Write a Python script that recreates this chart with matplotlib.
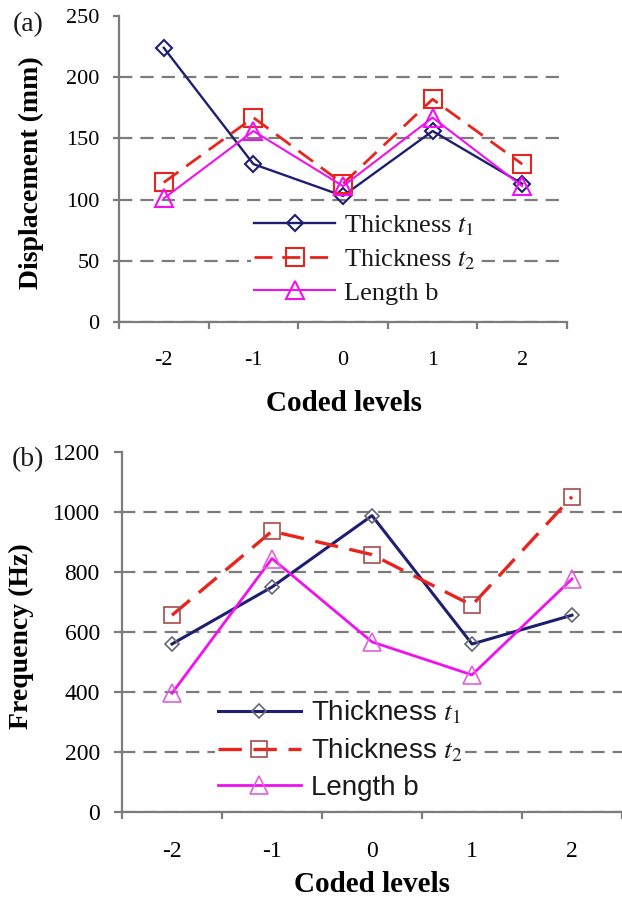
import numpy as np
import matplotlib
matplotlib.use('Agg')
import matplotlib.pyplot as plt

# coded levels on the x axis
levels = ['-2', '-1', '0', '1', '2']

# (a) displacement in mm
disp_t1 = [224, 129, 103, 156, 113]
disp_t2 = [114, 167, 113, 182, 129]
disp_b = [101, 156, 111, 167, 111]

# (b) frequency in Hz
freq_t1 = [560, 750, 988, 560, 656]
freq_t2 = [656, 936, 858, 689, 1051]
freq_b = [396, 845, 567, 457, 777]

labels = [r'Thickness $\mathit{t_1}$', r'Thickness $\mathit{t_2}$', 'Length b']

plt.rcParams['font.family'] = ['Liberation Serif', 'DejaVu Serif']
plt.rcParams['mathtext.fontset'] = 'stix'
plt.rcParams['text.color'] = '#1a1a1a'

navy = '#1f1f72'
red = '#e8241e'
magenta = '#f010f0'
gray = '#7c7c7c'

fig = plt.figure(figsize=(6.22, 9), dpi=100)
ax1 = fig.add_axes([119/622, 1-322/900, 448/622, 306/900])
ax2 = fig.add_axes([122/622, 1-812/900, 500/622, 360/900])

x = np.arange(len(levels))


def style_axes(ax, yticks, tick_size, tick_len):
    ax.set_xlim(-0.5, len(levels) - 0.5)
    ax.set_ylim(yticks[0], yticks[-1])
    ax.set_yticks(yticks)
    ax.set_xticks(x)
    ax.set_xticklabels(levels)
    ax.set_xticks(np.arange(len(levels) + 1) - 0.5, minor=True)
    for s in ['top', 'right']:
        ax.spines[s].set_visible(False)
    for s in ['left', 'bottom']:
        ax.spines[s].set_color(gray)
        ax.spines[s].set_linewidth(1.6)
    ax.tick_params(axis='x', which='major', length=0, pad=21, labelsize=tick_size)
    ax.tick_params(axis='x', which='minor', length=5, width=1.6, color=gray, direction='out')
    ax.tick_params(axis='y', length=tick_len, width=1.6, color=gray, pad=10, labelsize=tick_size)
    ax.yaxis.grid(True, color=gray, linewidth=1.6, linestyle=(0, (6, 3.6)))
    ax.yaxis.get_major_ticks()[-1].gridline.set_visible(False)
    ax.set_axisbelow(True)


def white_legend(leg):
    frame = leg.get_frame()
    frame.set_facecolor('white')
    frame.set_edgecolor('none')
    frame.set_alpha(1)


# panel (a)
style_axes(ax1, [0, 50, 100, 150, 200, 250], 16, 4)
ax1.plot(x, disp_t1, color=navy, lw=1.7, marker='D', ms=8, mfc='none', mec=navy, mew=1.5)
ax1.plot(x, disp_t2, color=red, lw=2, ls=(0, (6.5, 3.5)), marker='s', ms=13, mfc='none', mec=red, mew=1.5)
ax1.plot(x, disp_b, color=magenta, lw=1.5, marker='^', ms=12.5, mfc='none', mec=magenta, mew=1.5)
ax1.set_xlabel('Coded levels', fontsize=21, fontweight='bold', va='center')
ax1.xaxis.set_label_coords(0.502, -0.265)
ax1.set_ylabel('Displacement (mm)', fontsize=20, fontweight='bold', va='center')
ax1.yaxis.set_label_coords(-0.196, 0.487)
leg1 = ax1.legend(ax1.get_lines(), labels, loc='center left', fancybox=False,
                  bbox_to_anchor=(251/622, 1-259/900), bbox_transform=fig.transFigure,
                  borderpad=0.1, borderaxespad=0, handlelength=3.1, handletextpad=0.34,
                  labelspacing=0.35, fontsize=19)
white_legend(leg1)

# panel (b)
style_axes(ax2, [0, 200, 400, 600, 800, 1000, 1200], 17, 6)
ax2.plot(x, freq_t1, color=navy, lw=2.2, marker='D', ms=7.5, mfc='none', mec='#666677', mew=1.2)
ax2.plot(x, freq_t2, color=red, lw=2.4, ls=(0, (7, 3.5)), marker='s', ms=11.5, mfc='none', mec='#a84a4a', mew=1.2)
ax2.plot(x, freq_b, color=magenta, lw=2, marker='^', ms=13, mfc='none', mec='#e060e0', mew=1.2)
ax2.set_xlabel('Coded levels', fontsize=21, fontweight='bold', va='center')
ax2.xaxis.set_label_coords(0.5, -0.2)
ax2.set_ylabel('Frequency (Hz)', fontsize=20, fontweight='bold', va='center')
ax2.yaxis.set_label_coords(-0.202, 0.489)
leg2 = ax2.legend(ax2.get_lines(), labels, loc='center left', fancybox=False,
                  bbox_to_anchor=(215/622, 1-750/900), bbox_transform=fig.transFigure,
                  borderpad=0.1, borderaxespad=0, handlelength=3.0, handletextpad=0.36,
                  labelspacing=0.38, prop={'family': ['Liberation Sans', 'DejaVu Sans'], 'size': 20})
white_legend(leg2)

fig.text(13/622, 1-25/900, '(a)', fontsize=20, va='center', ha='left')
fig.text(12/622, 1-460/900, '(b)', fontsize=20, va='center', ha='left')

fig.savefig('out.png', dpi=100)
